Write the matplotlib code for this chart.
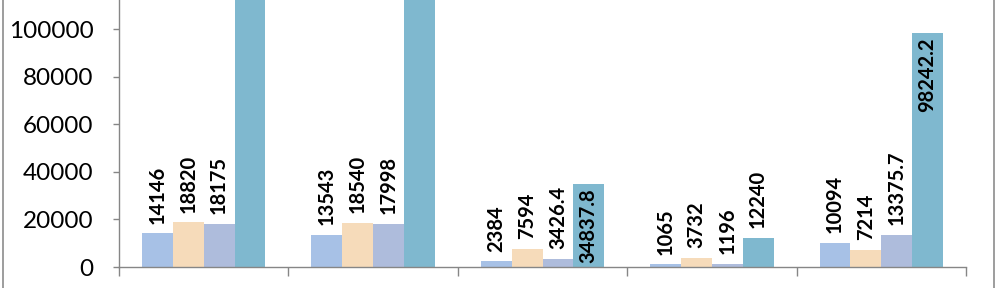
import numpy as np
import matplotlib.pyplot as plt
from matplotlib.lines import Line2D

plt.rcParams['font.family'] = ['Lato', 'DejaVu Sans']

# values (first two of series_d run off the top, estimated)
groups = ['A', 'B', 'C', 'D', 'E']
series_a = [14146, 13543, 2384, 1065, 10094]
series_b = [18820, 18540, 7594, 3732, 7214]
series_c = [18175, 17998, 3426.4, 1196, 13375.7]
series_d = [160000, 155000, 34837.8, 12240, 98242.2]
yticks = [0, 20000, 40000, 60000, 80000, 100000]

series = [series_a, series_b, series_c, series_d]
colors = ['#A7C1E6', '#F6DBBA', '#AEBCDC', '#7FB8CF']

fig = plt.figure(figsize=(10, 2.88), dpi=100)
ax = fig.add_axes([0.119, 21 / 288, 0.966 - 0.119, 1 - 21 / 288])

x = np.arange(len(groups))
bar_width = 0.182

for i, vals in enumerate(series):
    pos = x + (i - 1.5) * bar_width
    ax.bar(pos, vals, bar_width, color=colors[i], linewidth=0)
    for px, v in zip(pos, vals):
        label = '{:g}'.format(v)
        if i == 3 and v > 30000:
            # Excel put these labels inside the end of the bar
            ax.annotate(label, (px, v), xytext=(0, -3), textcoords='offset points',
                        rotation=90, ha='center', va='top', fontsize=14.5,
                        fontweight='bold', color='black', annotation_clip=True)
        else:
            ax.annotate(label, (px, v), xytext=(0, 7), textcoords='offset points',
                        rotation=90, ha='center', va='bottom', fontsize=14.5,
                        fontweight='bold', color='black')

ax.set_xlim(-0.5, len(groups) - 0.5)
ax.set_ylim(0, 112300)
ax.set_yticks(yticks)
ax.set_yticklabels([str(t) for t in yticks], fontsize=17.5)
ax.set_xticks(np.arange(len(groups) + 1) - 0.5)
ax.set_xticklabels([])

axis_color = '#868686'
for side in ['top', 'right']:
    ax.spines[side].set_visible(False)
for side in ['left', 'bottom']:
    ax.spines[side].set_color(axis_color)
    ax.spines[side].set_linewidth(1.0)
ax.tick_params(axis='y', length=4.5, width=1, color=axis_color, pad=14)
ax.tick_params(axis='x', length=6.5, width=1, color=axis_color)

# chart-area border on both sides
fig.add_artist(Line2D([0.0025, 0.0025], [0, 1], transform=fig.transFigure,
                      color='#8C8C8C', linewidth=1.2))
fig.add_artist(Line2D([0.9935, 0.9935], [0, 1], transform=fig.transFigure,
                      color='#8C8C8C', linewidth=1.2))

fig.savefig('out.png', dpi=100)
